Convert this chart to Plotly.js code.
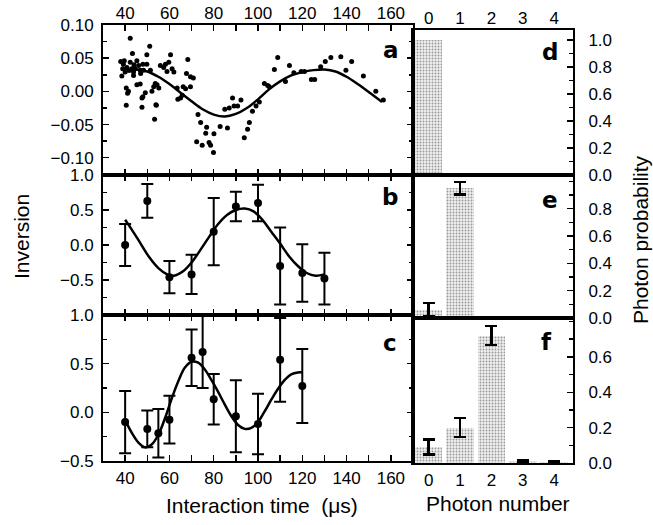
<!DOCTYPE html>
<html><head><meta charset="utf-8">
<script src="https://cdn.plot.ly/plotly-3.0.1.min.js"></script>
<style>body{margin:0;background:#fff}#chart{width:653px;height:525px}</style>
</head><body><div id="chart"></div>
<script>
// ---- Panel a: scattered inversion measurements and fit ----
const aTime = [42.3,43.3,38.0,39.2,38.9,40.0,40.8,41.5,42.3,43.0,43.8,44.5,45.3,46.1,46.8,48.0,49.8,51.1,49.8,51.4,
  38.5,40.5,41.1,45.3,46.8,48.0,47.6,40.5,47.6,52.1,52.9,54.4,55.2,54.1,53.3,55.9,57.4,58.2,59.7,60.5,
  61.2,62.0,63.5,63.8,65.0,68.3,67.7,69.5,70.8,66.2,69.5,72.9,74.1,76.8,76.4,80.1,72.3,74.8,77.9,78.6,
  79.9,82.9,86.2,85.0,87.0,88.5,89.2,90.8,92.3,95.3,96.1,93.8,99.1,97.5,100.6,108.9,107.4,102.9,105.1,104.4,
  112.4,114.2,116.2,119.5,121.0,124.1,125.6,128.3,130.4,132.9,137.4,139.7,142.3,147.6,153.2,156.6,
  39.6,42.0,43.8,48.3,41.5,49.1,53.6,53.9,44.0,47.0,65.8,58.9,67.3];
const aInv = [0.080,0.057,0.045,0.041,0.034,0.029,0.036,0.032,0.044,0.034,0.029,0.034,0.046,0.039,0.032,0.041,0.055,0.068,0.041,0.032,
  0.023,0.005,-0.003,0.010,0.011,-0.008,-0.010,-0.021,-0.024,0.000,0.007,0.010,0.005,-0.021,-0.042,0.039,0.036,0.041,0.044,0.055,
  0.034,0.029,0.005,-0.012,-0.010,0.048,0.027,0.022,0.020,0.007,0.007,-0.035,-0.047,-0.054,-0.063,-0.064,-0.076,-0.081,-0.077,-0.081,
  -0.092,-0.053,-0.055,-0.027,-0.025,-0.010,-0.022,-0.022,-0.013,-0.057,-0.047,-0.070,-0.022,-0.030,-0.016,0.051,0.033,0.012,0.007,0.009,
  0.015,0.039,0.028,0.030,0.030,0.018,0.018,0.037,0.045,0.051,0.052,0.032,0.045,0.023,0.000,-0.013,
  0.046,0.032,0.024,0.032,0.000,-0.002,0.012,-0.020,0.040,0.027,-0.006,0.030,0.004];
const aFitT = [40,45,50,55,60,65,70,75,80,85,90,95,100,105,110,115,120,125,130,135,140,145,150,156];
const aFitY = [0.031,0.033,0.030,0.022,0.011,-0.002,-0.015,-0.027,-0.035,-0.038,-0.034,-0.025,-0.012,0.003,0.015,0.024,0.029,0.032,0.033,0.030,0.022,0.011,-0.001,-0.016];

// ---- Panel b ----
const bTime = [40,50,60,70,80,90,100,110,120,130];
const bInv  = [0.00,0.63,-0.46,-0.42,0.19,0.55,0.60,-0.30,-0.40,-0.48];
const bErr  = [0.30,0.24,0.23,0.28,0.48,0.21,0.26,0.55,0.41,0.37];
const bFitT = [40,43,47,51,55,59,62,66,70,74,78,82,86,90,94,98,102,106,110,114,118,122,126,130];
const bFitY = [0.36,0.22,0.02,-0.18,-0.33,-0.42,-0.44,-0.38,-0.25,-0.07,0.12,0.30,0.43,0.50,0.52,0.48,0.36,0.19,0.02,-0.16,-0.30,-0.40,-0.44,-0.42];

// ---- Panel c ----
const cTime = [40,50,55,60,70,75,80,90,100,110,120];
const cInv  = [-0.10,-0.17,-0.215,-0.075,0.56,0.62,0.135,-0.04,-0.12,0.54,0.27];
const cErr  = [0.32,0.19,0.25,0.245,0.29,0.37,0.26,0.37,0.31,0.43,0.38];
const cFitT = [40,43,46,49,52,55,58,61,64,67,70,73,76,79,82,85,88,91,94,97,100,103,106,109,112,115,118,120];
const cFitY = [-0.08,-0.21,-0.31,-0.36,-0.33,-0.23,-0.06,0.14,0.32,0.46,0.52,0.51,0.44,0.33,0.21,0.08,-0.04,-0.13,-0.17,-0.16,-0.10,0.01,0.13,0.24,0.33,0.39,0.41,0.41];

// ---- Panels d, e, f: photon number distributions ----
const nPhoton = [0,1,2,3,4];
const dProb = [1.0,0,0,0,0];
const eProb = [0.06,0.95];
const eErr  = [0.05,0.045];
const fProb = [0.09,0.20,0.72,0.01,0.005];
const fErr  = [0.043,0.054,0.054,0.008,0.005];

// ---- Tick labels ----
const timeTickVals = [40,50,60,70,80,90,100,110,120,130,140,150,160];
const timeTickText = ['40','','60','','80','','100','','120','','140','','160'];
const nTickText = ['0','1','2','3','4'];

const LX = [103/653, 413/653], RX = [413/653, 573/653];
const dom = p => [(525-p[1])/525, (525-p[0])/525];

const lineBlack = {color:'black', width:2.5};
const barMarker = {color:'#dcdcdc', line:{width:0},
  pattern:{shape:'.', fgcolor:'#9a9a9a', bgcolor:'#efefef', size:3, solidity:0.3, fillmode:'replace'}};

const traces = [
  {x:aTime, y:aInv, xaxis:'x', yaxis:'y', mode:'markers', type:'scatter', marker:{color:'black', size:5}},
  {x:aFitT, y:aFitY, xaxis:'x', yaxis:'y', mode:'lines', type:'scatter', line:Object.assign({shape:'spline'}, lineBlack)},
  {x:bFitT, y:bFitY, xaxis:'x2', yaxis:'y2', mode:'lines', type:'scatter', line:Object.assign({shape:'spline'}, lineBlack)},
  {x:bTime, y:bInv, xaxis:'x2', yaxis:'y2', mode:'markers', type:'scatter', marker:{color:'black', size:8},
    error_y:{type:'data', array:bErr, color:'black', thickness:2, width:6}},
  {x:cFitT, y:cFitY, xaxis:'x3', yaxis:'y3', mode:'lines', type:'scatter', line:Object.assign({shape:'spline'}, lineBlack)},
  {x:cTime, y:cInv, xaxis:'x3', yaxis:'y3', mode:'markers', type:'scatter', marker:{color:'black', size:8},
    error_y:{type:'data', array:cErr, color:'black', thickness:2, width:6}},
  {x:nPhoton, y:dProb, xaxis:'x4', yaxis:'y4', type:'bar', width:0.88, marker:barMarker},
  {x:nPhoton.slice(0,2), y:eProb, xaxis:'x5', yaxis:'y5', type:'bar', width:0.88, marker:barMarker,
    error_y:{type:'data', array:eErr, color:'black', thickness:2.5, width:6}},
  {x:nPhoton, y:fProb, xaxis:'x6', yaxis:'y6', type:'bar', width:0.88, marker:barMarker,
    error_y:{type:'data', array:fErr, color:'black', thickness:2.5, width:6}}
];

const FAM = "'Liberation Sans', Arial, Helvetica, sans-serif";
const tickFont = {family:FAM, size:17, color:'black'};
function leftX(anchor, side, labels){
  return {domain:LX, range:[30,170], anchor:anchor, side:side, tickmode:'array', tickvals:timeTickVals, ticktext:timeTickText,
    showticklabels:labels, ticks:'inside', ticklen:6, tickwidth:1.5, tickcolor:'black', showline:true, linewidth:2, linecolor:'black',
    mirror:'allticks', showgrid:false, zeroline:false, tickfont:tickFont, ticklabelstandoff: side==='top'?-3:1};
}
function rightX(anchor, side, labels){
  return {domain:RX, range:[-0.5,4.6], anchor:anchor, side:side, tickmode:'array', tickvals:nPhoton, ticktext:nTickText,
    showticklabels:labels, ticks:'', showline:true, linewidth:2, linecolor:'black', mirror:true, showgrid:false, zeroline:false,
    tickfont:tickFont, ticklabelstandoff: side==='top'?-3:1};
}
function leftY(anchor, d, range, vals, fmt, minorStep){
  return {domain:dom(d), range:range, anchor:anchor, tickmode:'array', tickvals:vals, tickformat:fmt,
    ticks:'inside', ticklen:6, tickwidth:1.5, tickcolor:'black', showline:true, linewidth:2, linecolor:'black',
    mirror:'allticks', showgrid:false, zeroline:false, tickfont:tickFont, ticklabelstandoff:4,
    minor:{dtick:minorStep, tick0:0, ticks:'inside', ticklen:4, tickwidth:1.5, tickcolor:'black', showgrid:false}};
}
function rightY(anchor, d, range, vals){
  return {domain:dom(d), range:range, anchor:anchor, side:'right', tickmode:'array', tickvals:vals, tickformat:'.1f',
    ticks:'inside', ticklen:6, tickwidth:1.5, tickcolor:'black', showline:true, linewidth:2, linecolor:'black',
    mirror:true, showgrid:false, zeroline:false, tickfont:tickFont, ticklabelstandoff:10,
    minor:{dtick:0.1, tick0:0, ticks:'inside', ticklen:4, tickwidth:1.5, tickcolor:'black', showgrid:false}};
}

const ann = (text, x, y, font, angle) => ({text:text, xref:'paper', yref:'paper', x:x/653, y:(525-y)/525,
  xanchor:'center', yanchor:'middle', showarrow:false, font:font, textangle:angle||0});
const letterFont = {family:"'DejaVu Sans', sans-serif", size:23, color:'black'};
const titleFont = {family:FAM, size:21, color:'black'};

const layout = {
  width:653, height:525, margin:{l:0,r:0,t:0,b:0}, paper_bgcolor:'white', plot_bgcolor:'white', showlegend:false,
  font:tickFont, bargap:0,
  xaxis: leftX('y','top',true),
  xaxis2: leftX('y2','bottom',false),
  xaxis3: leftX('y3','bottom',true),
  xaxis4: rightX('y4','top',true),
  xaxis5: rightX('y5','bottom',false),
  xaxis6: rightX('y6','bottom',true),
  yaxis: leftY('x',[25,175],[-0.126,0.10],[-0.10,-0.05,0,0.05,0.10],'.2f',0.025),
  yaxis2: leftY('x2',[175,315],[-1,1],[-0.5,0,0.5,1.0],'.1f',0.25),
  yaxis3: leftY('x3',[315,461],[-0.5,1.0],[-0.5,0,0.5,1.0],'.1f',0.25),
  yaxis4: rightY('x4',[30,175],[0,1.075],[0,0.2,0.4,0.6,0.8,1.0]),
  yaxis5: rightY('x5',[175,318],[0,1.047],[0,0.2,0.4,0.6,0.8]),
  yaxis6: rightY('x6',[318,463],[0,0.82],[0,0.2,0.4,0.6]),
  annotations:[
    ann('<b>a</b>',391,50,letterFont), ann('<b>b</b>',390,197,letterFont), ann('<b>c</b>',390,343,letterFont),
    ann('<b>d</b>',550,52,letterFont), ann('<b>e</b>',550,200,letterFont), ann('<b>f</b>',546,342,letterFont),
    ann('Inversion',22,237,titleFont,-90),
    ann('Interaction time  (μs)',262,505,titleFont),
    ann('Photon number',498,503,titleFont),
    ann('Photon probability',640,240,titleFont,-90)
  ]
};

Plotly.newPlot('chart', traces, layout, {displayModeBar:false, staticPlot:true});
</script>
</body></html>
